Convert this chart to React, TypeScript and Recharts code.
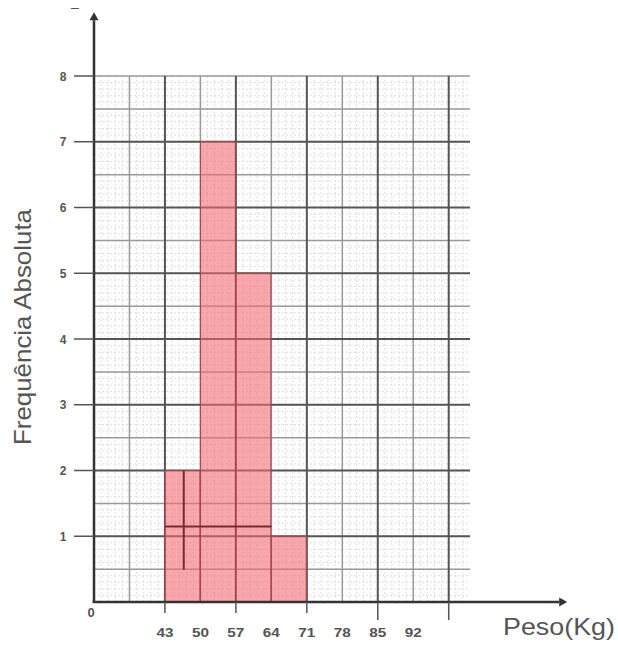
import React from 'react'
import { ComposedChart, Bar, XAxis, YAxis, CartesianGrid, ReferenceLine } from 'recharts'

// broken x axis: each grid cell is one class, 0 sits two cells before 43
const classLabels = ['43', '50', '57', '64', '71', '78', '85', '92']
const classStarts = ['43', '50', '57', '64']
const frequencies = [2, 7, 5, 1]
const yTicks = [0, 1, 2, 3, 4, 5, 6, 7, 8]
const xTicks = [2, 3, 4, 5, 6, 7, 8, 9, 10]
// stray pen strokes on the original sheet (data units)
const strokeH = [{ x: 2, y: 1.15 }, { x: 5, y: 1.15 }]
const strokeV = [{ x: 2.53, y: 2 }, { x: 2.53, y: 0.49 }]

const data = classStarts.map((c, i) => ({
  x: classLabels.indexOf(c) + 2.5,
  freq: frequencies[i],
}))

const FONT = '"Liberation Sans", Arial, sans-serif'
const X_MAX = 10.6

const range = (from: number, to: number, step: number) => {
  const out: number[] = []
  for (let v = from; v <= to + 1e-9; v += step) out.push(Math.round(v * 100) / 100)
  return out
}
const fineV = range(0.2, 10.4, 0.2)
const fineH = range(0.1, 8, 0.1)
const midV = [1, 3, 5, 7, 9]
const majorV = [2, 4, 6, 8, 10]
const midH = [0.5, 1.5, 2.5, 3.5, 4.5, 5.5, 6.5, 7.5, 8]
const majorH = [1, 2, 3, 4, 5, 6, 7]

const Arrow = (p: any) => {
  const { x1, y1, x2, y2 } = p
  const a = Math.atan2(y2 - y1, x2 - x1)
  const L = 8, W = 4.5
  const bx = x2 - L * Math.cos(a), by = y2 - L * Math.sin(a)
  const px = -Math.sin(a) * W, py = Math.cos(a) * W
  return (
    <g>
      <line x1={x1} y1={y1} x2={bx} y2={by} stroke="#333" strokeWidth={2.5} />
      <polygon points={`${x2},${y2} ${bx + px},${by + py} ${bx - px},${by - py}`} fill="#333" />
    </g>
  )
}

const XTick = (p: any) => {
  const { x, y, payload } = p
  const i = payload.value
  const label = classLabels[i - 2] ?? ''
  const len = i % 2 === 0 ? (i >= 8 ? 18 : 11) : 0
  return (
    <g>
      {len > 0 && <line x1={x} x2={x} y1={y} y2={y + len} stroke="#555" strokeWidth={1.5} />}
      {label && (
        <text x={x} y={y + 35} textAnchor="middle" fontSize={13} fontWeight="bold" fill="#555"
          fontFamily={FONT} textLength={17} lengthAdjust="spacingAndGlyphs">{label}</text>
      )}
    </g>
  )
}

const YTick = (p: any) => {
  const { x, y, payload } = p
  if (payload.value === 0) {
    return <text x={x - 3} y={y + 15} textAnchor="middle" fontSize={13} fontWeight="bold" fill="#555" fontFamily={FONT}>0</text>
  }
  return (
    <g>
      <line x1={x - 20} x2={x} y1={y} y2={y} stroke="#555" strokeWidth={1.5} />
      <text x={x - 31} y={y + 4.5} textAnchor="middle" fontSize={12} fontWeight="bold" fill="#555" fontFamily={FONT}>{payload.value}</text>
    </g>
  )
}

export default function App() {
  return (
    <div style={{ position: 'absolute', left: 0, top: 0, background: '#fff' }}>
      <ComposedChart width={618} height={646} data={data} barCategoryGap={0} barGap={0}
        margin={{ top: 76, right: 148, bottom: 0, left: 0 }}>
        <CartesianGrid horizontalValues={fineH} verticalValues={fineV} stroke="#dedede" strokeDasharray="2 2" />
        <CartesianGrid horizontalValues={midH} verticalValues={midV} stroke="#9a9a9a" strokeWidth={1.5} />
        <CartesianGrid horizontalValues={majorH} verticalValues={majorV} stroke="#555" strokeWidth={2} />
        <XAxis type="number" dataKey="x" domain={[0, X_MAX]} ticks={xTicks} interval={0} height={44}
          allowDataOverflow axisLine={false} tickLine={false} tickSize={0} tickMargin={0} tick={<XTick />} />
        <YAxis type="number" domain={[0, 8]} ticks={yTicks} interval={0} width={94}
          axisLine={false} tickLine={false} tickSize={0} tickMargin={0} tick={<YTick />} />
        <Bar dataKey="freq" fill="#f36970" fillOpacity={0.58} stroke="#a4464b" strokeWidth={1}
          isAnimationActive={false} />
        <ReferenceLine segment={strokeH} stroke="#7a2a2e" strokeWidth={2} />
        <ReferenceLine segment={strokeV} stroke="#7a2a2e" strokeWidth={2} />
        <ReferenceLine segment={[{ x: 0, y: 0 }, { x: 0, y: 8.97 }]} ifOverflow="visible" shape={Arrow} />
        <ReferenceLine segment={[{ x: -0.04, y: 0 }, { x: 13.34, y: 0 }]} ifOverflow="visible" shape={Arrow} />
        <text x={31} y={327} transform="rotate(-90 31 327)" textAnchor="middle" fontSize={24}
          fill="#555" fontFamily={FONT} textLength={236} lengthAdjust="spacingAndGlyphs">Frequência Absoluta</text>
        <text x={503} y={635} fontSize={24} fill="#555" fontFamily={FONT}
          textLength={112} lengthAdjust="spacingAndGlyphs">Peso(Kg)</text>
        <text x={75} y={12} textAnchor="middle" fontSize={14} fill="#555" fontFamily={FONT}>–</text>
      </ComposedChart>
    </div>
  )
}
